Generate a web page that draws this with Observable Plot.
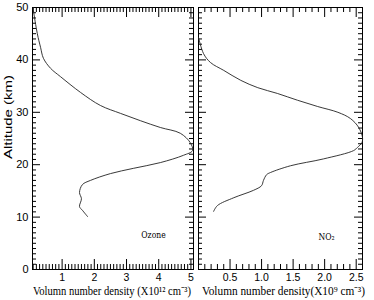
<!DOCTYPE html>
<html><head><meta charset="utf-8">
<script src="https://cdn.jsdelivr.net/npm/d3@7"></script>
<script src="https://cdn.jsdelivr.net/npm/@observablehq/plot@0.6"></script>
<style>
body{margin:0;background:#fff;}
#wrap{position:relative;width:374px;height:300px;overflow:hidden;background:#fff;}
#wrap svg{position:absolute;top:0;}
.lbl{position:absolute;white-space:nowrap;transform-origin:0 0;color:#000;line-height:1;}
</style></head><body><div id="wrap"></div>
<script>
// Ozone profile (altitude km, density x10^12 cm^-3)
const ozoneAlt = [50, 49.4, 45.0, 42.4, 40.3, 38.4, 36.8, 33.8, 31.3, 29.8, 28.4, 27.1, 26.0, 24.2, 22.7, 21.8, 20.4, 19.3, 18.3, 17.0, 16.2, 14.7, 13.5, 12.0, 11.3, 10.1];
const ozoneDen = [0.10, 0.11, 0.23, 0.33, 0.42, 0.64, 0.95, 1.57, 2.19, 2.81, 3.43, 4.05, 4.67, 4.98, 5.05, 4.77, 4.05, 3.21, 2.5, 1.88, 1.63, 1.54, 1.6, 1.54, 1.63, 1.79];
// NO2 profile (altitude km, density x10^9 cm^-3)
const no2Alt = [44.3, 41.2, 39.5, 38.0, 36.1, 34.7, 33.6, 32.3, 31.1, 30.0, 28.8, 27.1, 25.2, 24.2, 23.3, 22.7, 21.1, 19.8, 18.5, 18.1, 17.0, 16.0, 15.1, 13.7, 12.2, 11.1];
const no2Den = [0.0, 0.08, 0.19, 0.40, 0.67, 0.94, 1.25, 1.57, 1.89, 2.21, 2.41, 2.54, 2.6, 2.59, 2.52, 2.46, 1.98, 1.46, 1.14, 1.08, 1.03, 1.0, 0.87, 0.56, 0.30, 0.24];

const yTicks = [0, 10, 20, 30, 40, 50];
const ozoneTicks = [1, 2, 3, 4, 5];
const no2Ticks = [0.5, 1.0, 1.5, 2.0, 2.5];
const yTitle = "Altitude (km)";
const ozoneTitle = "Volumn number density (X10\u00B9\u00B2 cm\u207B\u00B3)";
const no2Title = "Volumn number density(X10\u2079 cm\u207B\u00B3)";
const ozoneName = "Ozone";
const no2Name = "NO\u2082";

const wrap = document.getElementById("wrap");
const H = 300, MT = 7, MB = 31;
const yDomain = [0, 50];
const yMinor = d3.range(1, 50).filter(v => v % 10 !== 0);

function panel({den, alt, xDomain, majors, fmt, width, ml, mr, showY, name, ndx, ndy}) {
  const data = den.map((d, i) => ({x: d, y: alt[i]}));
  const xMinor = d3.range(Math.ceil(xDomain[0] * 10), Math.floor(xDomain[1] * 10) + 1)
    .map(v => v / 10).filter(v => !majors.some(m => Math.abs(m - v) < 1e-6));
  const innerH = H - MT - MB, innerW = width - ml - mr;
  // inward ticks on all four sides: tick marks spanning the frame, inset to a short length
  const tx = (vals, len) => [
    Plot.tickX(vals, {x: d => d, insetTop: innerH - len, stroke: "black", strokeWidth: 1}),
    Plot.tickX(vals, {x: d => d, insetBottom: innerH - len, stroke: "black", strokeWidth: 1})
  ];
  const ty = (vals, len) => [
    Plot.tickY(vals, {y: d => d, insetRight: innerW - len, stroke: "black", strokeWidth: 1}),
    Plot.tickY(vals, {y: d => d, insetLeft: innerW - len, stroke: "black", strokeWidth: 1})
  ];
  const marks = [
    Plot.frame({stroke: "black", fill: "none", strokeWidth: 1}),
    ...tx(xMinor, 5),
    ...tx(majors, 10),
    ...ty(yMinor, 4),
    ...ty(yTicks, 8),
    Plot.axisX(majors, {anchor: "bottom", tickSize: 0, tickPadding: 4, tickFormat: fmt, label: null}),
    Plot.line(data, {x: "x", y: "y", curve: "catmull-rom", stroke: "#222", strokeWidth: 0.9}),
    Plot.text([name], {frameAnchor: "bottom-right", dx: ndx, dy: ndy, textAnchor: "middle",
      fontFamily: "DejaVu Serif Condensed, DejaVu Serif, serif", fontSize: 8.5, fill: "#000"})
  ];
  if (showY) marks.push(Plot.axisY(yTicks, {anchor: "left", tickSize: 0, tickPadding: 4, label: null, fontSize: 11}));
  return Plot.plot({
    width, height: H,
    marginLeft: ml, marginRight: mr, marginTop: MT, marginBottom: MB,
    x: {domain: xDomain, axis: null},
    y: {domain: yDomain, axis: null},
    style: {fontFamily: "Liberation Sans, Arial, sans-serif", fontSize: "10.5px", background: "transparent"},
    marks
  });
}

const p1 = panel({den: ozoneDen, alt: ozoneAlt, xDomain: [0.08, 5.08], majors: ozoneTicks,
  fmt: d3.format("d"), width: 196, ml: 32, mr: 3, showY: true, name: ozoneName, ndx: -40, ndy: -32});
const p2 = panel({den: no2Den, alt: no2Alt, xDomain: [0, 2.6], majors: no2Ticks,
  fmt: d3.format(".1f"), width: 178, ml: 2, mr: 12, showY: false, name: no2Name, ndx: -36, ndy: -30});
p1.style.left = "0px";
p2.style.left = "196px";
wrap.appendChild(p1);
wrap.appendChild(p2);

function addLabel(text, left, top, width, size, family, rotate) {
  const el = document.createElement("div");
  el.className = "lbl";
  el.textContent = text;
  el.style.fontFamily = family;
  el.style.fontSize = size + "px";
  wrap.appendChild(el);
  const w = el.getBoundingClientRect().width;
  const s = width / w;
  el.style.left = left + "px";
  el.style.top = top + "px";
  if (rotate) {
    el.style.transform = `translate(0px, ${width}px) rotate(-90deg) scaleX(${s})`;
  } else {
    el.style.transform = `scaleX(${s})`;
  }
  return el;
}
addLabel(ozoneTitle, 33, 285, 158, 12.5, "Liberation Serif, serif", false);
addLabel(no2Title, 202, 285, 163, 12.5, "Liberation Serif, serif", false);
addLabel(yTitle, 3, 75, 84, 10.5, "Liberation Sans, Arial, sans-serif", true);
</script>
</body></html>
